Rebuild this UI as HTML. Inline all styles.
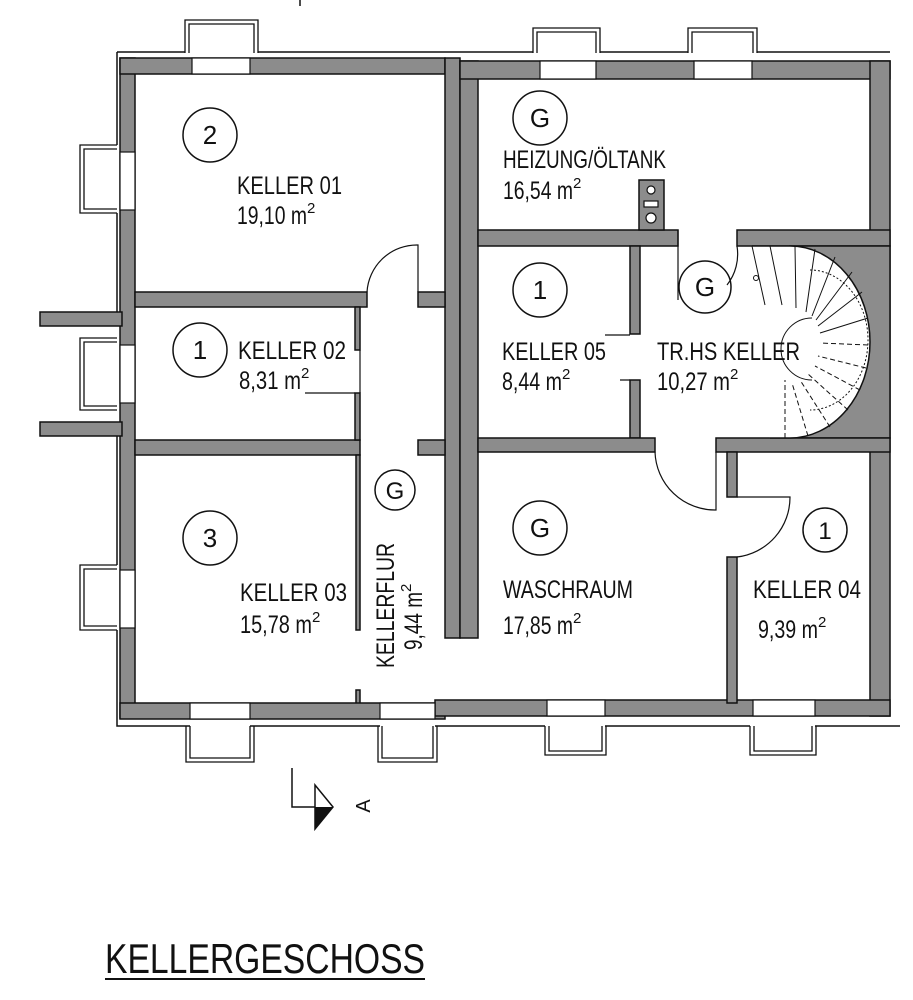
<!DOCTYPE html>
<html><head><meta charset="utf-8"><style>
html,body{margin:0;padding:0;background:#fff}
svg{display:block}
text{font-family:"Liberation Sans Narrow","Liberation Sans",sans-serif;fill:#111}
</style></head><body>
<svg width="913" height="1000" viewBox="0 0 913 1000" xmlns="http://www.w3.org/2000/svg">
<g stroke="#111" stroke-width="1.5" fill="none">
<path d="M300 0 V6"/>
<path d="M117 52 H185 M258 52 H533 M600 52 H688 M757 52 H890"/>
<path d="M117 52 V145 M117 213 V312 M117 436 V565 M117 630 V726 H190 M250 726 H380 M435 726 H545 M605 726 H750 M815 726 H900"/>
</g>
<g fill="#8c8c8c" stroke="#111" stroke-width="1.5">
<rect x="120" y="58" width="15" height="660"/>
<rect x="120" y="58" width="325" height="16"/>
<rect x="40" y="312" width="82" height="14"/>
<rect x="40" y="422" width="82" height="14"/>
<rect x="445" y="58" width="15" height="580"/>
<rect x="460" y="61" width="18" height="577"/>
<rect x="460" y="61" width="430" height="18"/>
<rect x="870" y="61" width="20" height="655"/>
<rect x="135" y="292" width="232" height="15"/>
<rect x="418" y="292" width="27" height="15"/>
<rect x="135" y="440" width="225" height="15"/>
<rect x="418" y="440" width="27" height="15"/>
<rect x="355" y="307" width="5" height="43"/>
<rect x="355" y="393" width="5" height="47"/>
<rect x="356" y="455" width="4" height="175"/>
<rect x="356" y="690" width="4" height="15"/>
<rect x="120" y="703" width="325" height="16"/>
<rect x="435" y="700" width="455" height="16"/>
<rect x="478" y="230" width="200" height="16"/>
<rect x="737" y="230" width="153" height="16"/>
<rect x="790" y="246" width="100" height="192"/>
<rect x="630" y="246" width="10" height="88"/>
<rect x="630" y="380" width="10" height="58"/>
<rect x="478" y="438" width="177" height="14"/>
<rect x="716" y="438" width="174" height="14"/>
<rect x="727" y="452" width="10" height="45"/>
<rect x="727" y="557" width="10" height="146"/>
<rect x="639" y="180" width="25" height="50"/>
</g>
<g fill="#fff" stroke="#111" stroke-width="1.2">
<rect x="192" y="58" width="58" height="16"/>
<rect x="540" y="61" width="56" height="18"/>
<rect x="694" y="61" width="58" height="18"/>
<rect x="120" y="152" width="15" height="58"/>
<rect x="120" y="345" width="15" height="58"/>
<rect x="120" y="570" width="15" height="58"/>
<rect x="190" y="703" width="60" height="16"/>
<rect x="380" y="703" width="55" height="16"/>
<rect x="547" y="700" width="58" height="16"/>
<rect x="753" y="700" width="62" height="16"/>
</g>
<g fill="none" stroke="#111" stroke-width="1.3">
<path d="M185 53 V20 H258 V53 M189 53 V24 H254 V53"/>
<path d="M533 53 V28 H600 V53 M537 53 V32 H596 V53"/>
<path d="M688 53 V28 H757 V53 M692 53 V32 H753 V53"/>
<path d="M117 145 H80 V213 H117 M117 149 H84 V209 H117"/>
<path d="M117 338 H80 V410 H117 M117 342 H84 V406 H117"/>
<path d="M117 565 H80 V630 H117 M117 569 H84 V626 H117"/>
<path d="M186 726 V762 H254 V726 M190 726 V758 H250 V726"/>
<path d="M378 726 V762 H437 V726 M382 726 V758 H433 V726"/>
<path d="M545 726 V755 H606 V726 M549 726 V751 H602 V726"/>
<path d="M750 726 V755 H816 V726 M754 726 V751 H812 V726"/>
</g>
<g fill="#fff" stroke="#111" stroke-width="1.2">
<circle cx="651" cy="190" r="4"/><rect x="644" y="201" width="14" height="6"/><circle cx="651" cy="218" r="5"/>
</g>
<g fill="none" stroke="#111" stroke-width="1.2">
<path d="M367 292 A50 50 0 0 1 418 245 V292"/>
<path d="M360 350 V393 M305 393 H355"/>
<path d="M605 335 H630 M620 380 H630"/>
<path d="M655 452 A60 60 0 0 0 716 510 V452"/>
<path d="M737 497 H790 A60 60 0 0 1 737 557"/>
<path d="M678 230 V300 M737 246 A50 50 0 0 1 727 285"/>
</g>
<path d="M752 246 H790 A80 96 0 0 1 790 438 H770" fill="#fff" stroke="#111" stroke-width="1.5"/>
<path d="M752 246 L770 438" fill="none" stroke="none"/>
<g stroke="#111" stroke-width="1" fill="none">
<path d="M812 318 A26 26 0 0 0 812 380"/>
<path d="M752 246 L765 305 M770 246 L782 305 M795 246 L796 308 M815 249 L806 312 M835 257 L812 316 M852 272 L816 320 M862 292 L818 326 M868 318 L820 333"/>
<g stroke-dasharray="5,3"><path d="M868 345 L820 343 M866 368 L818 356 M860 390 L815 366 M848 410 L808 374 M830 427 L800 380 M808 436 L792 383 M785 438 V380"/></g>
<path d="M810 270 A58 70 0 0 1 810 410" stroke-dasharray="2,2"/>
<circle cx="756" cy="278" r="2.5"/>
</g>
<g fill="none" stroke="#111" stroke-width="1.5">
<circle cx="210" cy="135" r="27"/><circle cx="200" cy="350" r="27"/><circle cx="210" cy="538" r="27"/>
<circle cx="395" cy="490" r="20" /><circle cx="540" cy="118" r="27"/><circle cx="540" cy="290" r="27"/>
<circle cx="705" cy="287" r="26"/><circle cx="540" cy="528" r="27"/><circle cx="825" cy="530" r="22"/>
</g>
<g font-size="26" text-anchor="middle">
<text x="210" y="144">2</text><text x="200" y="359">1</text><text x="210" y="547">3</text>
<text x="395" y="499" font-size="24">G</text><text x="540" y="127">G</text><text x="540" y="299">1</text>
<text x="705" y="296">G</text><text x="540" y="537">G</text><text x="825" y="539" font-size="24">1</text>
</g>
<g font-size="25">
<text x="237" y="194" textLength="105" lengthAdjust="spacingAndGlyphs">KELLER 01</text>
<text x="237" y="224"><tspan textLength="70" lengthAdjust="spacingAndGlyphs">19,10 m</tspan><tspan font-size="15" dy="-11">2</tspan></text>
<text x="238" y="359" textLength="108" lengthAdjust="spacingAndGlyphs">KELLER 02</text>
<text x="239" y="389"><tspan textLength="62" lengthAdjust="spacingAndGlyphs">8,31 m</tspan><tspan font-size="15" dy="-11">2</tspan></text>
<text x="240" y="601" textLength="107" lengthAdjust="spacingAndGlyphs">KELLER 03</text>
<text x="240" y="633"><tspan textLength="72" lengthAdjust="spacingAndGlyphs">15,78 m</tspan><tspan font-size="15" dy="-11">2</tspan></text>
<text x="503" y="168" textLength="163" lengthAdjust="spacingAndGlyphs">HEIZUNG/ÖLTANK</text>
<text x="503" y="199"><tspan textLength="70" lengthAdjust="spacingAndGlyphs">16,54 m</tspan><tspan font-size="15" dy="-11">2</tspan></text>
<text x="502" y="360" textLength="104" lengthAdjust="spacingAndGlyphs">KELLER 05</text>
<text x="502" y="390"><tspan textLength="60" lengthAdjust="spacingAndGlyphs">8,44 m</tspan><tspan font-size="15" dy="-11">2</tspan></text>
<text x="657" y="360" textLength="143" lengthAdjust="spacingAndGlyphs">TR.HS KELLER</text>
<text x="657" y="390"><tspan textLength="73" lengthAdjust="spacingAndGlyphs">10,27 m</tspan><tspan font-size="15" dy="-11">2</tspan></text>
<text x="503" y="598" textLength="130" lengthAdjust="spacingAndGlyphs">WASCHRAUM</text>
<text x="503" y="634"><tspan textLength="70" lengthAdjust="spacingAndGlyphs">17,85 m</tspan><tspan font-size="15" dy="-11">2</tspan></text>
<text x="753" y="598" textLength="108" lengthAdjust="spacingAndGlyphs">KELLER 04</text>
<text x="758" y="638"><tspan textLength="60" lengthAdjust="spacingAndGlyphs">9,39 m</tspan><tspan font-size="15" dy="-11">2</tspan></text>
<text transform="translate(394,668) rotate(-90)" textLength="125" lengthAdjust="spacingAndGlyphs">KELLERFLUR</text>
<text transform="translate(422,650) rotate(-90)"><tspan textLength="58" lengthAdjust="spacingAndGlyphs">9,44 m</tspan><tspan font-size="15" dy="-11">2</tspan></text>
</g>
<g stroke="#111" stroke-width="1.5" fill="none"><path d="M292 768 V807 H315"/><path d="M315 785 L333 807 L315 829 Z"/></g>
<path d="M315 807 H333 L315 829 Z" fill="#111"/>
<text transform="translate(370,806) rotate(-90)" font-size="20" text-anchor="middle">A</text>
<text x="105" y="973" font-size="42" textLength="320" lengthAdjust="spacingAndGlyphs">KELLERGESCHOSS</text>
<path d="M105 979 H425" stroke="#111" stroke-width="2"/>
</svg>
</body></html>
